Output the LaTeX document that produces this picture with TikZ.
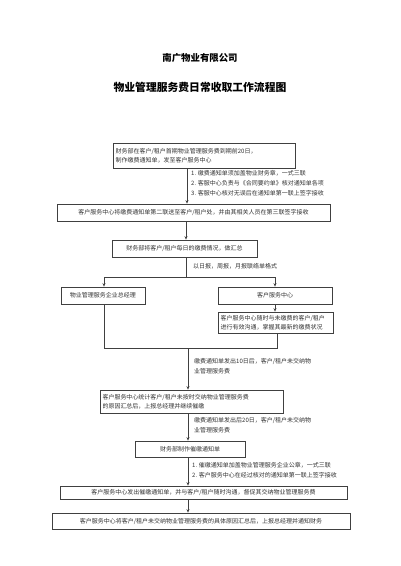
\documentclass[tikz,border=0pt]{standalone}
\usepackage{fontspec}
\newfontfamily\cjk{Noto Sans CJK SC}
\usetikzlibrary{arrows.meta}
\begin{document}
\begin{tikzpicture}[x=1pt,y=-1pt,
  box/.style={draw=black!75, line width=0.7pt, fill=white, inner sep=2.5pt,
    font=\cjk\fontsize{6}{9}\selectfont, text=black!80},
  lbl/.style={inner sep=0pt, font=\cjk\fontsize{6}{10}\selectfont, text=black!80, align=left},
  arr/.style={draw=black!75, line width=0.6pt, -{Stealth[length=3.5pt,width=3pt]}},
  ln/.style={draw=black!75, line width=0.6pt}]
\useasboundingbox[fill=white] (0,0) rectangle (400,566);
% titles
\node[font=\cjk\bfseries\fontsize{9.4}{11}\selectfont] (t1) at (200,58) {南广物业有限公司};
\node[font=\cjk\bfseries\fontsize{10.8}{13}\selectfont] (t2) at (200,87) {物业管理服务费日常收取工作流程图};
% column coordinates
\coordinate (cx) at (187,0);
\coordinate (lx) at (104,0);
\coordinate (rx) at (275,0);
\coordinate (r6) at (277,0);
% boxes
\node[box, minimum width=182, minimum height=25, text width=177, align=left] (b1) at (204,156)
  {财务部在客户/租户首期物业管理服务费到期前20日，\\制作缴费通知单，发至客户服务中心};
\node[box, minimum width=273, minimum height=17] (b2) at (193.5,212.5)
  {客户服务中心将缴费通知单第二联送至客户/租户处，并由其相关人员在第三联签字接收};
\node[box, minimum width=145, minimum height=17] (b3) at (184.5,248.5)
  {财务部将客户/租户每日的缴费情况，做汇总};
\node[box, minimum width=84, minimum height=17] (b4) at (103,295.5)
  {物业管理服务企业总经理};
\node[box, minimum width=114, minimum height=17] (b5) at (275,295.5)
  {客户服务中心};
\node[box, minimum width=115, minimum height=21, text width=110, align=left] (b6) at (275.5,322.5)
  {客户服务中心随时与未缴费的客户/租户\\进行有效沟通，掌握其最新的缴费状况};
\node[box, minimum width=183, minimum height=23, text width=178, align=left] (b7) at (191.5,401.5)
  {客户服务中心统计客户/租户未按时交纳物业管理服务费\\的原因汇总后，上报总经理并继续催缴};
\node[box, minimum width=110, minimum height=16] (b8) at (190,449)
  {财务部制作催缴通知单};
\node[box, minimum width=287, minimum height=13] (b9) at (203.5,492.5)
  {客户服务中心发出催缴通知单，并与客户/租户随时沟通，督促其交纳物业管理服务费};
\node[box, minimum width=298, minimum height=16] (b10) at (201,521)
  {客户服务中心将客户/租户未交纳物业管理服务费的具体原因汇总后，上报总经理并通知财务};
% annotations
\node[lbl, anchor=north west] (a1) at (191,170.5)
  {1. 缴费通知单须加盖物业财务章，一式三联\\2. 客服中心负责与《合同要约单》核对通知单各项\\3. 客服中心核对无误后在通知单第一联上签字接收};
\node[lbl, anchor=west] (a2) at (193,266) {以日报，周报，月报联络单格式};
\node[lbl, anchor=north west] (a3) at (194,358)
  {缴费通知单发出10日后，客户/租户未交纳物\\业管理服务费};
\node[lbl, anchor=north west] (a4) at (194,417)
  {缴费通知单发出后20日，客户/租户未交纳物\\业管理服务费};
\node[lbl, anchor=north west] (a5) at (192,462)
  {1. 催缴通知单加盖物业管理服务企业公章，一式三联\\2. 客户服务中心在经过核对的通知单第一联上签字接收};
% junction coordinates
\coordinate (j1) at (186,277);
\coordinate (j2) at (188,348);
% connectors
\draw[arr] (b1.south -| cx) -- (b2.north -| cx);
\draw[arr] (b2.south -| j1) -- (b3.north -| j1);
\draw[ln] (b3.south -| j1) -- (j1);
\draw[ln] (j1 -| lx) -- (j1 -| rx);
\draw[arr] (j1 -| lx) -- (b4.north -| lx);
\draw[arr] (j1 -| rx) -- (b5.north -| rx);
\draw[arr] (b5.south -| rx) -- (b6.north -| rx);
\draw[ln] (b6.south -| r6) -- (j2 -| r6) -- (j2 -| lx) -- (b4.south -| lx);
\draw[arr] (j2) -- (b7.north -| j2);
\draw[arr] (b7.south -| j2) -- (b8.north -| j2);
\draw[arr] (b8.south -| j2) -- (b9.north -| j2);
\draw[arr] (b9.south -| j2) -- (b10.north -| j2);
\end{tikzpicture}
\end{document}
